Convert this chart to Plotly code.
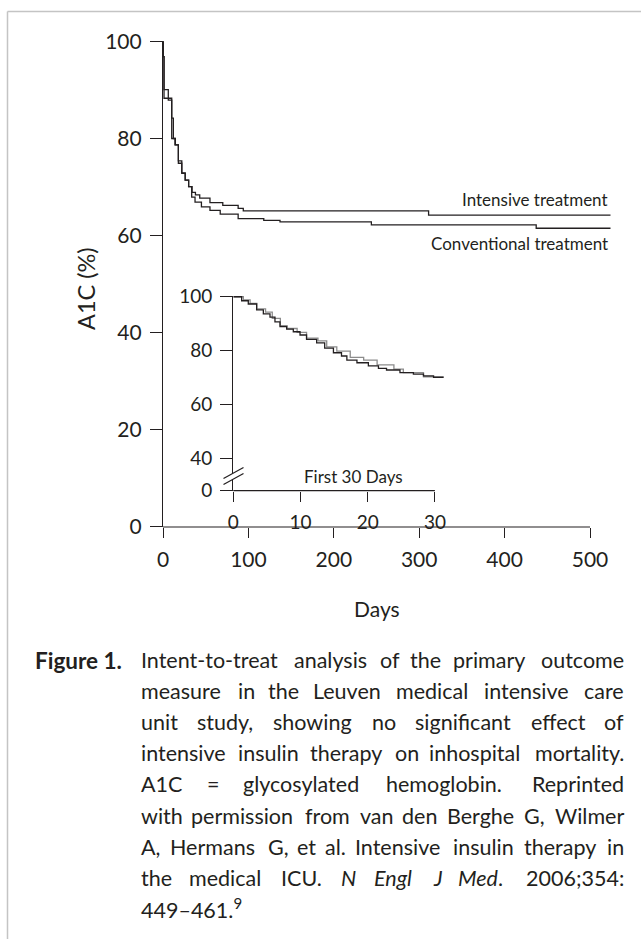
import re
import plotly.graph_objects as go

# ---------------- data ----------------
main_x_ticks = [0, 100, 200, 300, 400, 500]
main_y_ticks = [0, 20, 40, 60, 80, 100]

intensive_days = [0, 0.3, 1.2, 6.2, 10.2, 12.1, 14.5, 18, 22, 26, 30, 34, 38, 43, 55, 70, 88, 94, 311, 524]
intensive_pct = [100, 97, 90.2, 88.0, 84.3, 80.1, 78.8, 75.5, 73.0, 71.5, 70.2, 69.0, 68.5, 67.8, 66.9, 66.3, 65.7, 65.2, 64.3, 64.3]

conventional_days = [0, 0.3, 1.2, 10.2, 14, 18, 22, 26, 30, 33.6, 37.5, 45, 55, 67, 88, 118, 137, 244, 437, 524]
conventional_pct = [100, 97, 88.4, 80.1, 78.8, 75.0, 72.9, 71.5, 70.2, 68.0, 67.0, 66.0, 65.3, 64.5, 63.6, 63.2, 62.9, 62.3, 61.6, 61.6]

inset_x_ticks = [0, 10, 20, 30]
inset_y_ticks = [28, 40, 60, 80, 100]          # 28 = position of broken-axis "0"
inset_y_ticktext = ["0", "40", "60", "80", "100"]

inset_black_days = [0, 1.24, 2.23, 3.47, 4.47, 5.46, 6.2, 6.95, 7.94, 8.93, 9.93, 10.9, 12.4, 13.6, 14.9,
                    16.1, 16.9, 18.4, 20.1, 21.6, 22.8, 24.8, 26.8, 28.3, 29.8, 31.3]
inset_black_pct = [100, 98.5, 97.3, 95.1, 93.6, 92.4, 90.7, 88.9, 88.0, 87.0, 85.8, 84.2, 82.9, 80.9, 79.2,
                   78.0, 76.5, 75.5, 74.3, 73.4, 72.8, 71.8, 71.3, 70.6, 70.1, 70.1]

inset_gray_days = [0, 1.5, 2.5, 3.5, 4.8, 5.8, 7, 8, 9.5, 10.9, 12.6, 13.9, 15.4, 17.4, 19.4, 21.4, 23.9,
                   25.3, 28.3, 31.3]
inset_gray_pct = [100, 98.8, 97.5, 95.5, 94.3, 92.0, 89.3, 88.2, 86.8, 84.6, 83.6, 81.4, 79.8, 77.5, 76.5,
                  74.7, 73.1, 71.8, 70.3, 70.3]

caption_lines = [
    "Intent-to-treat analysis of the primary outcome",
    "measure in the Leuven medical intensive care",
    "unit study, showing no significant effect of",
    "intensive insulin therapy on inhospital mortality.",
    "A1C = glycosylated hemoglobin. Reprinted",
    "with permission from van den Berghe G, Wilmer",
    "A, Hermans G, et al. Intensive insulin therapy in",
    "the medical ICU. <i>N</i> <i>Engl</i> <i>J</i> <i>Med</i>. 2006;354:",
    "449–461.<sup>9</sup>",
]

# ---------------- layout geometry (pixels) ----------------
W, H = 641, 939
INK = "#231f20"
FONT = "Lato"


def fx(p):
    return p / W


def fy(p):
    return 1 - p / H


# main axes
M_X0, M_PPD = 163.0, 0.854
M_XMAX = 525
M_Y0, M_PPU = 527.0, 4.85
M_YMAX = 100.3
# inset axes
I_X0, I_PPD = 233.3, 6.72
I_XMAX = 31.5
I_YMIN, I_Y0, I_PPU = 28, 490.7, 2.694
I_YMAX = 100.4

fig = go.Figure()

fig.add_trace(go.Scatter(x=intensive_days, y=intensive_pct, mode="lines", line_shape="hv",
                         line=dict(color=INK, width=1.3), xaxis="x", yaxis="y", name="Intensive"))
fig.add_trace(go.Scatter(x=conventional_days, y=conventional_pct, mode="lines", line_shape="hv",
                         line=dict(color=INK, width=1.3), xaxis="x", yaxis="y", name="Conventional"))
fig.add_trace(go.Scatter(x=inset_gray_days, y=inset_gray_pct, mode="lines", line_shape="hv",
                         line=dict(color="#8c8c8c", width=1.3), xaxis="x2", yaxis="y2"))
fig.add_trace(go.Scatter(x=inset_black_days, y=inset_black_pct, mode="lines", line_shape="hv",
                         line=dict(color=INK, width=1.3), xaxis="x2", yaxis="y2"))

tickfont_main = dict(family=FONT, size=21, color=INK)
tickfont_inset = dict(family=FONT, size=19, color=INK)

common = dict(showgrid=False, zeroline=False, automargin=False, tickcolor=INK, tickwidth=1.2,
              ticks="outside", ticklabelstandoff=4)

layout = dict(
    template="none",
    width=W, height=H, autosize=False, margin=dict(l=0, r=0, t=0, b=0, pad=0, autoexpand=False),
    paper_bgcolor="white", plot_bgcolor="rgba(0,0,0,0)", showlegend=False,
    xaxis=dict(domain=[fx(M_X0), fx(M_X0 + M_XMAX * M_PPD)], range=[0, M_XMAX], anchor="y",
               showline=False, tickvals=main_x_ticks, ticklen=10, tickfont=tickfont_main, **common),
    yaxis=dict(domain=[fy(M_Y0), fy(M_Y0 - M_YMAX * M_PPU)], range=[0, M_YMAX], anchor="x",
               showline=True, linecolor=INK, linewidth=1.2, tickvals=main_y_ticks, ticklen=12,
               tickfont=tickfont_main, **common),
    xaxis2=dict(domain=[fx(I_X0), fx(I_X0 + I_XMAX * I_PPD)], range=[0, I_XMAX], anchor="y2",
                showline=False, tickvals=inset_x_ticks, ticklen=10, tickfont=tickfont_inset, **common),
    yaxis2=dict(domain=[fy(I_Y0), fy(I_Y0 - (I_YMAX - I_YMIN) * I_PPU)], range=[I_YMIN, I_YMAX],
                anchor="x2", showline=True, linecolor=INK, linewidth=1.2, tickvals=inset_y_ticks,
                ticktext=inset_y_ticktext, ticklen=12, tickfont=tickfont_inset, **common),
)

shapes = []
# x-axis lines only up to the last tick
shapes.append(dict(type="line", xref="x domain", yref="y domain", x0=0, x1=500 / M_XMAX, y0=0, y1=0,
                   line=dict(color=INK, width=1.2)))
shapes.append(dict(type="line", xref="x2 domain", yref="y2 domain", x0=0, x1=30 / I_XMAX, y0=0, y1=0,
                   line=dict(color=INK, width=1.2)))
# axis break on inset y axis
bx0, bx1 = 223.5, 243.5
by_a0, by_a1 = 478.5, 467.5
gap = 6
shapes.append(dict(type="path", xref="paper", yref="paper",
                   path=f"M {fx(bx0)} {fy(by_a0)} L {fx(bx1)} {fy(by_a1)} L {fx(bx1)} {fy(by_a1 + gap)} "
                        f"L {fx(bx0)} {fy(by_a0 + gap)} Z",
                   fillcolor="white", line=dict(width=0), layer="above"))
for off in (0, gap):
    shapes.append(dict(type="line", xref="paper", yref="paper",
                       x0=fx(bx0), y0=fy(by_a0 + off), x1=fx(bx1), y1=fy(by_a1 + off),
                       line=dict(color=INK, width=1.2), layer="above"))
# frame (light grey, top and left)
shapes.append(dict(type="line", xref="paper", yref="paper", x0=fx(7.5), y0=fy(11.5), x1=1, y1=fy(11.5),
                   line=dict(color="#c4c4c4", width=1.5)))
shapes.append(dict(type="line", xref="paper", yref="paper", x0=fx(7.5), y0=fy(11.5), x1=fx(7.5), y1=0,
                   line=dict(color="#c4c4c4", width=1.5)))
layout["shapes"] = shapes

ann = []


def text(t, x, y, size=20, xanchor="center", angle=0):
    ann.append(dict(text=t, x=fx(x), y=fy(y), xref="paper", yref="paper", showarrow=False,
                    xanchor=xanchor, yanchor="middle", textangle=angle, borderpad=0,
                    font=dict(family=FONT, size=size, color=INK)))


text("A1C (%)", 86, 289, size=23.5, angle=-90)
text("Days", 377, 608, size=21)
text("Intensive treatment", 609, 199, size=17, xanchor="right")
text("Conventional treatment", 609, 244, size=17, xanchor="right")
text("First 30 Days", 353, 476, size=17)

# ---- caption, justified (approximate Lato advance widths in em) ----
CW = {c: 0.556 for c in "nhuopqdb"}
CW.update({"a": 0.49, "c": 0.455, "e": 0.52, "f": 0.334, "g": 0.515, "i": 0.234, "j": 0.234, "k": 0.50,
           "l": 0.234, "m": 0.845, "r": 0.373, "s": 0.416, "t": 0.349, "v": 0.505, "w": 0.758, "x": 0.49,
           "y": 0.505, "z": 0.45, ".": 0.21, ",": 0.21, ";": 0.24, ":": 0.24, "-": 0.346, "=": 0.58,
           "–": 0.5, "A": 0.678, "B": 0.63, "C": 0.673, "E": 0.56, "G": 0.731, "H": 0.765, "I": 0.297,
           "J": 0.384, "L": 0.486, "M": 0.915, "N": 0.765, "R": 0.631, "U": 0.73, "W": 1.02})
for d in "0123456789":
    CW[d] = 0.58


def width_em(s):
    plain = re.sub(r"<[^>]+>", "", s)
    return 1.05 * sum(CW.get(ch, 0.55) for ch in plain)


CAP = 21.5
LEFT, RIGHT, TOP, STEP = 140, 625, 660, 31.1
text("<b>Figure 1.</b>", 34, TOP, size=22.5, xanchor="left")
for i, line in enumerate(caption_lines):
    y = TOP + i * STEP
    words = line.split(" ")
    if len(words) == 1:
        text(words[0], LEFT, y, size=CAP, xanchor="left")
        continue
    widths = [width_em(w) * CAP for w in words]
    g = (RIGHT - LEFT - sum(widths)) / (len(words) - 1)
    xcur = LEFT
    for j, (w, wd) in enumerate(zip(words, widths)):
        if j == len(words) - 1:
            text(w, RIGHT, y, size=CAP, xanchor="right")
        else:
            text(w, xcur, y, size=CAP, xanchor="left")
        xcur += wd + g

layout["annotations"] = ann
fig.update_layout(**layout)
fig.write_html("out.html", config={"displayModeBar": False},
               post_script="document.body.style.margin='0px';document.body.style.padding='0px';"
                           "document.documentElement.style.overflow='hidden';")
